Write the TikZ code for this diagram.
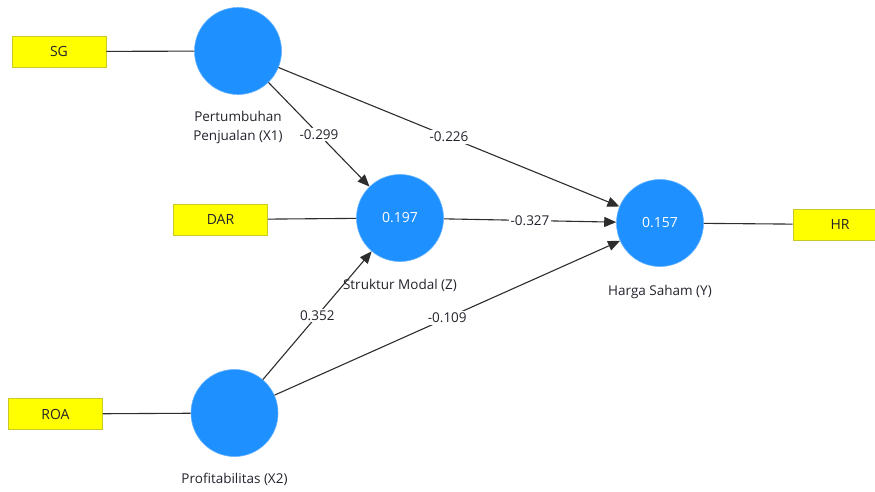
\documentclass[tikz,border=0pt]{standalone}
\usepackage{fontspec}
\setmainfont{Open Sans}
\usetikzlibrary{arrows.meta}
\definecolor{lvblue}{RGB}{30,144,255}
\definecolor{indyel}{RGB}{255,255,0}
\definecolor{indborder}{RGB}{200,200,40}
\definecolor{linegray}{RGB}{45,45,45}
\definecolor{txt}{RGB}{35,35,45}
\tikzset{
  latent/.style={circle, fill=lvblue, draw=lvblue!70!white, line width=0.6pt, minimum size=87pt, inner sep=0pt, text=white, font=\fontsize{14}{16}\selectfont},
  indic/.style={rectangle, fill=indyel, draw=indborder, line width=0.8pt, minimum width=94pt, minimum height=31pt, inner sep=0pt, text=txt, font=\fontsize{14}{16}\selectfont},
  lbl/.style={text=txt, font=\fontsize{13.5}{19}\selectfont, align=center, inner sep=1pt},
  conn/.style={draw=linegray, line width=1.1pt},
  path/.style={draw=linegray, line width=1.1pt, -{Triangle[length=12pt,width=10pt]}},
  coef/.style={fill=white, text=txt, font=\fontsize{13.5}{15}\selectfont, inner sep=2pt, pos=0.5}
}
\begin{document}
\begin{tikzpicture}[x=1pt,y=-1pt]
\useasboundingbox (0,0) rectangle (875,491);
\begin{scope}
\clip (0,0) rectangle (875,491);
% indicators
\node[indic] (sg) at (59,51.5) {SG};
\node[indic] (dar) at (220.5,219.5) {DAR};
\node[indic] (roa) at (55.5,414) {ROA};
\node[indic] (hr) at (840,224.5) {HR};
% latents
\node[latent] (x1) at (238,51) {};
\node[latent] (z) at (400,218) {0.197};
\node[latent] (y) at (660,223) {0.157};
\node[latent] (x2) at (234.5,413) {};
\end{scope}
% labels
\node[lbl] (lx1) at (238,127) {Pertumbuhan\\Penjualan (X1)};
\node[lbl] (lz) at (400,285) {Struktur Modal (Z)};
\node[lbl] (ly) at (660,292) {Harga Saham (Y)};
\node[lbl] (lx2) at (234.5,479) {Profitabilitas (X2)};
% measurement lines
\draw[conn] (sg) -- (x1);
\draw[conn] (dar) -- (z);
\draw[conn] (roa) -- (x2);
\draw[conn] (y) -- (hr);
% structural paths
\draw[path] (x1) -- (z) node[coef] {-0.299};
\draw[path] (x1) -- (y) node[coef] {-0.226};
\draw[path] (z) -- (y) node[coef] {-0.327};
\draw[path] (x2) -- (z) node[coef] {0.352};
\draw[path] (x2) -- (y) node[coef] {-0.109};
\end{tikzpicture}
\end{document}
